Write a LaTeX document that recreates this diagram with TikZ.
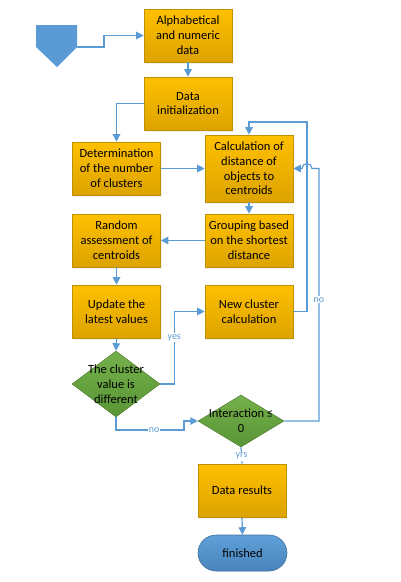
\documentclass[tikz,border=0pt]{standalone}
\usepackage{fontspec}
\setmainfont{Carlito}
\usetikzlibrary{shapes.geometric,shapes.misc,arrows.meta,shadows}
\definecolor{lineblue}{HTML}{5B9BD5}
\definecolor{goldA}{HTML}{FFC000}
\definecolor{goldB}{HTML}{DCA300}
\definecolor{goldE}{HTML}{BF9000}
\definecolor{greenA}{HTML}{74B04A}
\definecolor{greenB}{HTML}{5A9537}
\definecolor{greenE}{HTML}{507E32}
\definecolor{blueA}{HTML}{5F9FD8}
\definecolor{blueB}{HTML}{4A84BC}
\definecolor{blueE}{HTML}{41719C}
\begin{document}
\begin{tikzpicture}[x=1pt,y=-1pt,
  every node/.style={font=\fontsize{12.5}{14.8}\selectfont, text=black},
  box/.style={rectangle, draw=goldE, line width=0.6pt, top color=goldA, bottom color=goldB,
    minimum width=88pt, minimum height=53pt, inner sep=0pt, align=center,
    drop shadow={opacity=0.12, shadow xshift=1pt, shadow yshift=-2pt}},
  dia/.style={diamond, draw=greenE, line width=0.5pt, top color=greenA, bottom color=greenB,
    inner sep=0pt, align=center},
  term/.style={rounded rectangle, draw=blueE, line width=0.6pt, top color=blueA, bottom color=blueB,
    minimum width=89pt, minimum height=36pt, inner sep=0pt},
  conn/.style={draw=lineblue, line width=1.2pt},
  arr/.style={conn, -{Triangle[length=7.5pt,width=7.5pt]}},
  lbl/.style={font=\fontsize{10}{11}\selectfont, text=lineblue, fill=white, inner sep=1pt}
]
\path[use as bounding box] (0,0) rectangle (401,582);

% start pentagon
\fill[lineblue] (36,25) -- (77,25) -- (77,47) -- (57,67) -- (36,47) -- cycle;
\coordinate (pe) at (77,47);

\node[box] (alpha) at (188,35.5) {Alphabetical\\and numeric\\data};
\node[box] (init) at (188,103.5) {Data\\initialization};
\node[box] (det) at (116.5,168.5) {Determination\\of the number\\of clusters};
\node[box, minimum height=67pt] (calc) at (249,168.5) {Calculation of\\distance of\\objects to\\centroids};
\node[box] (group) at (249,240.5) {Grouping based\\on the shortest\\distance};
\node[box] (rand) at (116.5,240.5) {Random\\assessment of\\centroids};
\node[box] (upd) at (116.5,311.5) {Update the\\latest values};
\node[box] (newc) at (249,311.5) {New cluster\\calculation};
\node[dia, minimum width=88pt, minimum height=66pt,
  label={[align=center, font=\fontsize{12.5}{14.8}\selectfont]center:The cluster\\value is\\different}] (d1) at (116,384) {};
\node[dia, minimum width=86pt, minimum height=52pt,
  label={[align=center, font=\fontsize{12.5}{14.8}\selectfont]center:Interaction ≤\\0}] (d2) at (241,421) {};
\node[box] (res) at (242,490.5) {Data results};
\node[term] (fin) at (242.5,553) {finished};

\coordinate (lp) at (307,122);
\coordinate (n1) at (184,430);
\coordinate (h1) at (319,421);
\coordinate (h2) at (312,168.5);

\draw[arr] (pe) -- ++(27,0) |- (alpha.west);
\draw[arr] (alpha.south) -- (init.north);
\draw[arr] (init.west) -| (det.north);
\draw[arr] (det.east) -- (calc.west);
\draw[arr] (calc.south) -- (group.north);
\draw[arr] (group.west) -- (rand.east);
\draw[arr] (rand.south) -- (upd.north);
\draw[arr] (upd.south) -- (d1.north);
\draw[arr] (d1.east) -- ++(14,0) |- node[lbl, pos=0.32] {yes} (newc.west);
\draw[arr] (newc.east) -| (lp) -| (calc.north);
\draw[arr] (d1.south) |- node[lbl, pos=0.78] {no} (n1) |- (d2.west);
\draw[arr] (d2.east) -- (h1) |- node[lbl, pos=0.24] {no} (h2)
  arc[start angle=0, end angle=180, radius=5pt] -- (calc.east);
\draw[conn] (d2.south) -- node[lbl, pos=0.55] {yrs} (res.north);
\draw[arr] (res.south) -- (fin.north);
\end{tikzpicture}
\end{document}
